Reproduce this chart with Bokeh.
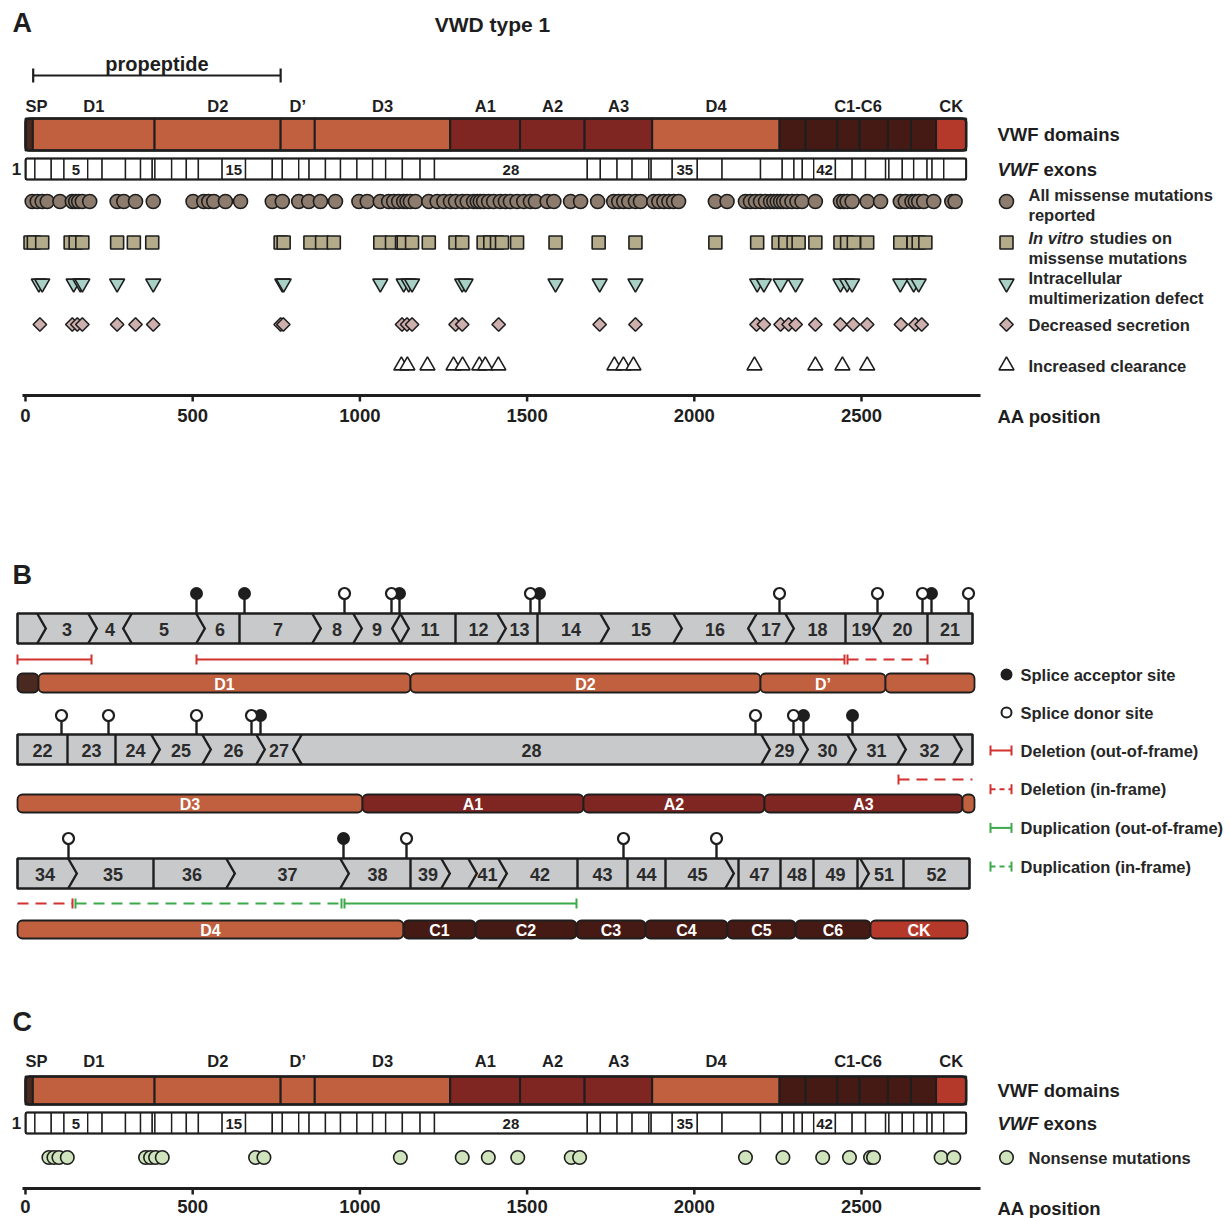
from bokeh.plotting import figure
from bokeh.models import Range1d
from bokeh.embed import file_html
from bokeh.resources import INLINE
from bokeh.core.properties import value

# ============================ DATA ============================
# VWF domains (amino-acid positions)
domain_names = ["SP", "D1", "D2", "D\u2019", "D3", "A1", "A2", "A3", "D4",
                "C1", "C2", "C3", "C4", "C5", "C6", "CK"]
domain_start = [1, 23, 387, 764, 866, 1271, 1480, 1673, 1875, 2256, 2334, 2429, 2495, 2580, 2649, 2724]
domain_end = [22, 386, 763, 865, 1270, 1479, 1672, 1874, 2255, 2333, 2428, 2494, 2579, 2648, 2723, 2813]
domain_kind = ["SP", "D", "D", "D", "D", "A", "A", "A", "D", "C", "C", "C", "C", "C", "C", "CK"]

header_labels = ["SP", "D1", "D2", "D\u2019", "D3", "A1", "A2", "A3", "D4", "C1-C6", "CK"]
header_first = [0, 1, 2, 3, 4, 5, 6, 7, 8, 9, 15]
header_last = [0, 1, 2, 3, 4, 5, 6, 7, 8, 14, 15]

propeptide = [23, 763]

# exon boundaries (AA), exon 2 start ... exon 52 end
exon_bounds_aa = [1, 28, 77, 115, 186, 229, 299, 344, 379, 387, 437, 481, 517, 588, 658,
                  738, 768, 817, 848, 897, 942, 991, 1038, 1077, 1127, 1180, 1223, 1680,
                  1719, 1769, 1814, 1864, 1871, 1934, 2009, 2083, 2198, 2263, 2298, 2323,
                  2357, 2422, 2472, 2512, 2572, 2582, 2622, 2656, 2696, 2711, 2746, 2813]
exon_label_nums = [5, 15, 28, 35, 42]

# Panel A mutation positions (AA)
missense_all = [20, 35, 50, 65, 103, 140, 150, 159, 170, 192, 274, 294, 329, 382, 501, 533,
                548, 563, 598, 643, 738, 768, 817, 847, 882, 927, 997, 1022, 1061, 1086,
                1101, 1116, 1131, 1141, 1151, 1166, 1206, 1231, 1251, 1271, 1286, 1306,
                1321, 1340, 1351, 1360, 1370, 1385, 1400, 1420, 1435, 1450, 1470, 1490,
                1510, 1525, 1560, 1580, 1630, 1660, 1711, 1759, 1774, 1789, 1804, 1824,
                1839, 1879, 1894, 1909, 1924, 1938, 1953, 2063, 2098, 2153, 2168, 2183,
                2198, 2213, 2228, 2238, 2248, 2258, 2267, 2277, 2292, 2307, 2322, 2362,
                2437, 2447, 2457, 2472, 2517, 2557, 2616, 2631, 2651, 2661, 2671, 2686,
                2716, 2770, 2780]
invitro = [15, 25, 50, 135, 150, 170, 274, 324, 379, 763, 772, 852, 887, 922, 1061, 1096,
           1126, 1131, 1156, 1206, 1286, 1306, 1370, 1390, 1410, 1425, 1470, 1585, 1714,
           1824, 2063, 2188, 2252, 2272, 2297, 2312, 2362, 2437, 2457, 2477, 2517, 2616,
           2656, 2671, 2691]
multimer = [40, 50, 144, 164, 170, 274, 382, 768, 772, 1061, 1131, 1146, 1156, 1306, 1316,
            1585, 1717, 1824, 2188, 2208, 2258, 2303, 2437, 2457, 2472, 2616, 2656, 2671]
secretion = [43, 140, 155, 170, 274, 329, 382, 763, 771, 1126, 1141, 1156, 1286, 1306, 1415,
             1717, 1824, 2186, 2208, 2258, 2282, 2303, 2362, 2437, 2475, 2517, 2618, 2661, 2680]
clearance = [1124, 1142, 1202, 1280, 1307, 1357, 1375, 1414, 1761, 1788, 1818, 2180, 2362,
             2443, 2517]

# Panel C nonsense mutations (AA)
nonsense = [70, 85, 100, 125, 359, 374, 389, 409, 688, 713, 1121, 1306, 1384, 1472, 1632,
            1657, 2153, 2265, 2384, 2464, 2527, 2536, 2738, 2776]

aa_ticks = [0, 500, 1000, 1500, 2000, 2500]

# Panel B schematic (exon layout units)
b1_bounds = [17, 41, 92, 127, 200, 239, 316, 357, 396, 404, 455, 501, 537, 604, 677, 752, 789, 845, 877, 927, 972]
b1_types = ["|", ">", ">", "<", ">", "|", ">", ">", "<", ">", "|", ">", "|", ">", ">", "<", ">", "|", "<", "|", "|"]
b1_labels = ["", "3", "4", "5", "6", "7", "8", "9", "", "11", "12", "13", "14", "15", "16", "17", "18", "19", "20", "21"]
b1_acceptor = [196, 244, 399, 539, 931]
b1_donor = [344, 391, 530, 779, 877, 922, 968]
b1_dom_names = ["", "D1", "D2", "D\u2019", ""]
b1_dom_start = [17, 38, 410, 760, 885]
b1_dom_end = [38, 410, 760, 885, 974]
b1_dom_kind = ["SP", "D", "D", "D", "D"]

b2_bounds = [17, 67, 115, 155, 206, 260, 297, 765, 803, 851, 901, 957, 972]
b2_types = ["|", "|", "|", ">", ">", ">", "<", ">", ">", ">", ">", ">", "|"]
b2_labels = ["22", "23", "24", "25", "26", "27", "28", "29", "30", "31", "32", ""]
b2_acceptor = [260, 803, 852]
b2_donor = [61, 108, 196, 251, 755, 793]
b2_dom_names = ["D3", "A1", "A2", "A3", ""]
b2_dom_start = [17, 362, 583, 764, 962]
b2_dom_end = [362, 583, 764, 962, 974]
b2_dom_kind = ["D", "A", "A", "A", "D"]

b3_bounds = [17, 72, 153, 230, 344, 410, 445, 472, 502, 577, 627, 665, 729, 738, 780, 813, 857, 864, 903, 969]
b3_types = ["|", ">", "|", ">", ">", "|", ">", ">", ">", "|", "|", "|", ">", "|", "|", "|", "|", ">", "|", "|"]
b3_labels = ["34", "35", "36", "37", "38", "39", "", "41", "42", "43", "44", "45", "", "47", "48", "49", "", "51", "52"]
b3_acceptor = [343]
b3_donor = [68, 406, 623, 716]
b3_dom_names = ["D4", "C1", "C2", "C3", "C4", "C5", "C6", "CK"]
b3_dom_start = [17, 403, 475, 576, 645, 727, 795, 870]
b3_dom_end = [403, 475, 576, 645, 727, 795, 870, 967]
b3_dom_kind = ["D", "C", "C", "C", "C", "C", "C", "CK"]

# structural variants: (start, end, row, kind, cap_left, cap_right)
sv_start = [17, 196, 847, 898, 17, 75, 344]
sv_end = [91, 844, 927, 972, 72, 341, 576]
sv_row = [1, 1, 1, 2, 3, 3, 3]
sv_kind = ["del_out", "del_out", "del_in", "del_in", "del_in", "dup_in", "dup_out"]
sv_cap_l = [True, True, True, True, False, True, True]
sv_cap_r = [True, True, True, False, True, True, True]

legend_b_names = ["Deletion (out-of-frame)", "Deletion (in-frame)",
                  "Duplication (out-of-frame)", "Duplication (in-frame)"]
legend_b_kinds = ["del_out", "del_in", "dup_out", "dup_in"]

# ============================ STYLE ============================
FONT = value("Liberation Sans")
INK = "#1e1e1e"
TXT = "#262626"
KIND_COLOR = {"SP": "#4a2a20", "D": "#c0603f", "A": "#7f2522", "C": "#461a14", "CK": "#b5392a"}
RED = "#d2312f"
GREEN = "#3da94b"
SV_COLOR = {"del_out": RED, "del_in": RED, "dup_out": GREEN, "dup_in": GREEN}
SV_DASH = {"del_out": "solid", "del_in": "11 7", "dup_out": "solid", "dup_in": "11 7"}

PX_PER_AA = 0.3344
AA_ORIGIN_PX = 25.0
X0, X1 = 0, 1230
Y_TOP, Y_BOT = 0, 1218

p = figure(width=X1 - X0, height=Y_BOT - Y_TOP,
           x_range=Range1d(X0, X1), y_range=Range1d(Y_BOT, Y_TOP),
           x_axis_type=None, y_axis_type=None,
           output_backend="svg", toolbar_location=None, min_border=0)
p.extra_x_ranges = {"aa": Range1d((X0 - AA_ORIGIN_PX) / PX_PER_AA, (X1 - AA_ORIGIN_PX) / PX_PER_AA)}
p.grid.visible = False
p.outline_line_color = None


def txt(x, y, s, size=16.5, align="left", color=TXT, style="bold", rng="default", baseline="middle"):
    xs = x if isinstance(x, list) else [x]
    ss = s if isinstance(s, list) else [s]
    ys = y if isinstance(y, list) else [y] * len(xs)
    p.text(x=xs, y=ys, text=ss, x_range_name=rng, text_font=FONT,
           text_font_size=f"{size}px", text_font_style=style, text_align=align,
           text_baseline=baseline, text_color=color)


# ---------------- panels A and C shared drawing ----------------
def domain_and_exons(y_lab, d_top, d_bot, e_top, e_bot):
    lefts = [s - 1 for s in domain_start]
    p.quad(left=lefts, right=domain_end, top=d_top, bottom=d_bot,
           fill_color=[KIND_COLOR[k] for k in domain_kind], line_color=INK, line_width=2,
           x_range_name="aa")
    p.quad(left=[0], right=[domain_end[-1]], top=d_top, bottom=d_bot, fill_color=None,
           line_color=INK, line_width=2.5, border_radius=4, x_range_name="aa")
    hx = []
    for lab, a, b in zip(header_labels, header_first, header_last):
        if lab == "SP":
            hx.append(domain_start[a] + 32)
        else:
            hx.append((domain_start[a] + domain_end[b]) / 2)
    txt(hx, y_lab, header_labels, size=16.5, align="center", rng="aa", color=INK)
    p.quad(left=exon_bounds_aa[:-1], right=exon_bounds_aa[1:], top=e_top, bottom=e_bot,
           fill_color="white", line_color=INK, line_width=1.4, x_range_name="aa")
    p.quad(left=[exon_bounds_aa[0] - 1], right=[exon_bounds_aa[-1]], top=e_top, bottom=e_bot,
           fill_color=None, line_color=INK, line_width=2, border_radius=2, x_range_name="aa")
    lx = [(exon_bounds_aa[n - 2] + exon_bounds_aa[n - 1]) / 2 for n in exon_label_nums]
    txt(lx, (e_top + e_bot) / 2 + 1, [str(n) for n in exon_label_nums], size=15,
        align="center", rng="aa", color=INK)
    txt(16, (e_top + e_bot) / 2, "1", size=17, align="center", color=INK)
    txt(997, (d_top + d_bot) / 2, "VWF domains", size=18.5, color=INK)
    txt(997, (e_top + e_bot) / 2, "VWF", size=18.5, style="bold italic", color=INK)
    txt(1043, (e_top + e_bot) / 2, "exons", size=18.5, color=INK)


def aa_axis(y, label_y, name_y):
    n = len(aa_ticks)
    p.segment(x0=[-9], y0=[y], x1=[2856], y1=[y], line_width=3.2, line_color=INK,
              x_range_name="aa")
    p.segment(x0=aa_ticks, y0=[y] * n, x1=aa_ticks, y1=[y + 6] * n, line_width=2.5,
              line_color=INK, x_range_name="aa")
    txt(aa_ticks, label_y, [str(t) for t in aa_ticks], size=18.5, align="center",
        rng="aa", color=INK)
    txt(997, name_y, "AA position", size=18.5, color=INK)


def row(xs, y, marker, fill, size, angle=0.0, rng="aa"):
    p.scatter(x=xs, y=[y] * len(xs), marker=marker, size=size, angle=angle,
              fill_color=fill, line_color=INK, line_width=1.6, x_range_name=rng)


# ============================ PANEL A ============================
txt(12, 22, "A", size=27, color=INK)
txt(492, 24, "VWD type 1", size=21, align="center", color=INK)
p.segment(x0=[propeptide[0]], y0=[75], x1=[propeptide[1]], y1=[75], line_width=2.2,
          line_color=INK, x_range_name="aa")
p.segment(x0=propeptide, y0=[68, 68], x1=propeptide, y1=[82, 82], line_width=2.2,
          line_color=INK, x_range_name="aa")
txt((propeptide[0] + propeptide[1]) / 2, 63, "propeptide", size=20, align="center",
    color=INK, rng="aa")

domain_and_exons(105, 118, 150, 158, 179)

C_MISS = "#8d7c6d"
C_VITRO = "#b4ab8b"
C_MULT = "#a8d0c5"
C_SEC = "#cdb0ad"
C_CLR = "#ffffff"
C_NON = "#cfe4bc"

row(missense_all, 201, "circle", C_MISS, 14)
row(invitro, 242, "square", C_VITRO, 13)
row(multimer, 283, "inverted_triangle", C_MULT, 15)
row(secretion, 324, "square", C_SEC, 9.5, angle=0.785398)
row(clearance, 365, "triangle", C_CLR, 15)

row([1006], 201, "circle", C_MISS, 14, rng="default")
row([1006], 242, "square", C_VITRO, 13, rng="default")
row([1006], 283, "inverted_triangle", C_MULT, 15, rng="default")
row([1006], 324, "square", C_SEC, 9.5, angle=0.785398, rng="default")
row([1006], 365, "triangle", C_CLR, 15, rng="default")
txt(1028, 194, "All missense mutations")
txt(1028, 214, "reported")
txt(1028, 237, "In vitro", style="bold italic")
txt(1089, 237, "studies on")
txt(1028, 257, "missense mutations")
txt(1028, 277, "Intracellular")
txt(1028, 297, "multimerization defect")
txt(1028, 324, "Decreased secretion")
txt(1028, 365, "Increased clearance")

aa_axis(395, 415, 416)

# ============================ PANEL B ============================
txt(12, 574, "B", size=27, color=INK)

H = 4.3
ROWS = {
    1: dict(bounds=b1_bounds, types=b1_types, labels=b1_labels, acc=b1_acceptor, don=b1_donor,
            dn=b1_dom_names, ds=b1_dom_start, de=b1_dom_end, dk=b1_dom_kind,
            top=613, bot=643, pin=593, sv=659, dtop=673, dbot=692),
    2: dict(bounds=b2_bounds, types=b2_types, labels=b2_labels, acc=b2_acceptor, don=b2_donor,
            dn=b2_dom_names, ds=b2_dom_start, de=b2_dom_end, dk=b2_dom_kind,
            top=734, bot=764, pin=715, sv=779, dtop=794, dbot=812),
    3: dict(bounds=b3_bounds, types=b3_types, labels=b3_labels, acc=b3_acceptor, don=b3_donor,
            dn=b3_dom_names, ds=b3_dom_start, de=b3_dom_end, dk=b3_dom_kind,
            top=858, bot=888, pin=838, sv=903, dtop=920, dbot=938),
}

for r, d in ROWS.items():
    top, bot = d["top"], d["bot"]
    mid = (top + bot) / 2
    allpins = d["acc"] + d["don"]
    p.segment(x0=allpins, y0=[d["pin"]] * len(allpins), x1=allpins, y1=[top] * len(allpins),
              line_width=2.4, line_color=INK)
    p.quad(left=[d["bounds"][0]], right=[d["bounds"][-1]], top=top, bottom=bot,
           fill_color="#c8c9cb", line_color=INK, line_width=2.6)
    xs, ys = [], []
    for c, t in zip(d["bounds"][1:-1], d["types"][1:-1]):
        if t == "|":
            xs.append([c, c]); ys.append([top, bot])
        elif t == ">":
            xs.append([c - H, c + H, c - H]); ys.append([top, mid, bot])
        else:
            xs.append([c + H, c - H, c + H]); ys.append([top, mid, bot])
    p.multi_line(xs=xs, ys=ys, line_color=INK, line_width=2.4, line_join="miter")
    b = d["bounds"]
    lx = [(b[i] + b[i + 1]) / 2 for i in range(len(b) - 1)]
    txt(lx, mid + 1, d["labels"], size=18, align="center", color="#2b2b2b")
    p.scatter(x=d["acc"], y=[d["pin"]] * len(d["acc"]), size=11, fill_color=INK,
              line_color=INK, line_width=2)
    p.scatter(x=d["don"], y=[d["pin"]] * len(d["don"]), size=11, fill_color="white",
              line_color=INK, line_width=2.2)
    p.quad(left=d["ds"], right=d["de"], top=d["dtop"], bottom=d["dbot"],
           fill_color=[KIND_COLOR[k] for k in d["dk"]], line_color=INK, line_width=1.8,
           border_radius=5)
    dx = [(s + e) / 2 for s, e in zip(d["ds"], d["de"])]
    txt(dx, (d["dtop"] + d["dbot"]) / 2 + 1, d["dn"], size=16, align="center", color="white")

for s, e, r, k, cl, cr in zip(sv_start, sv_end, sv_row, sv_kind, sv_cap_l, sv_cap_r):
    y = ROWS[r]["sv"]
    p.segment(x0=[s], y0=[y], x1=[e], y1=[y], line_color=SV_COLOR[k], line_width=2,
              line_dash=SV_DASH[k])
    caps = ([s] if cl else []) + ([e] if cr else [])
    p.segment(x0=caps, y0=[y - 5] * len(caps), x1=caps, y1=[y + 5] * len(caps),
              line_color=SV_COLOR[k], line_width=2)

p.scatter(x=[1006], y=[674], size=10, fill_color=INK, line_color=INK, line_width=2)
p.scatter(x=[1006], y=[712], size=10, fill_color="white", line_color=INK, line_width=2)
txt(1020, 674, "Splice acceptor site")
txt(1020, 712, "Splice donor site")
for i, (nm, k) in enumerate(zip(legend_b_names, legend_b_kinds)):
    y = 750 + i * 38.7
    p.segment(x0=[990], y0=[y], x1=[1011], y1=[y], line_color=SV_COLOR[k], line_width=2,
              line_dash="5 4" if k.endswith("_in") else "solid")
    p.segment(x0=[990, 1011], y0=[y - 5, y - 5], x1=[990, 1011], y1=[y + 5, y + 5],
              line_color=SV_COLOR[k], line_width=2)
    txt(1020, y, nm)

# ============================ PANEL C ============================
txt(12, 1021, "C", size=27, color=INK)
domain_and_exons(1060, 1076, 1104, 1112, 1133)
row(nonsense, 1157, "circle", C_NON, 13.5)
row([1006], 1157, "circle", C_NON, 13.5, rng="default")
txt(1028, 1157, "Nonsense mutations")
aa_axis(1188, 1206, 1208)

open("out.html", "w").write(file_html(p, INLINE))
